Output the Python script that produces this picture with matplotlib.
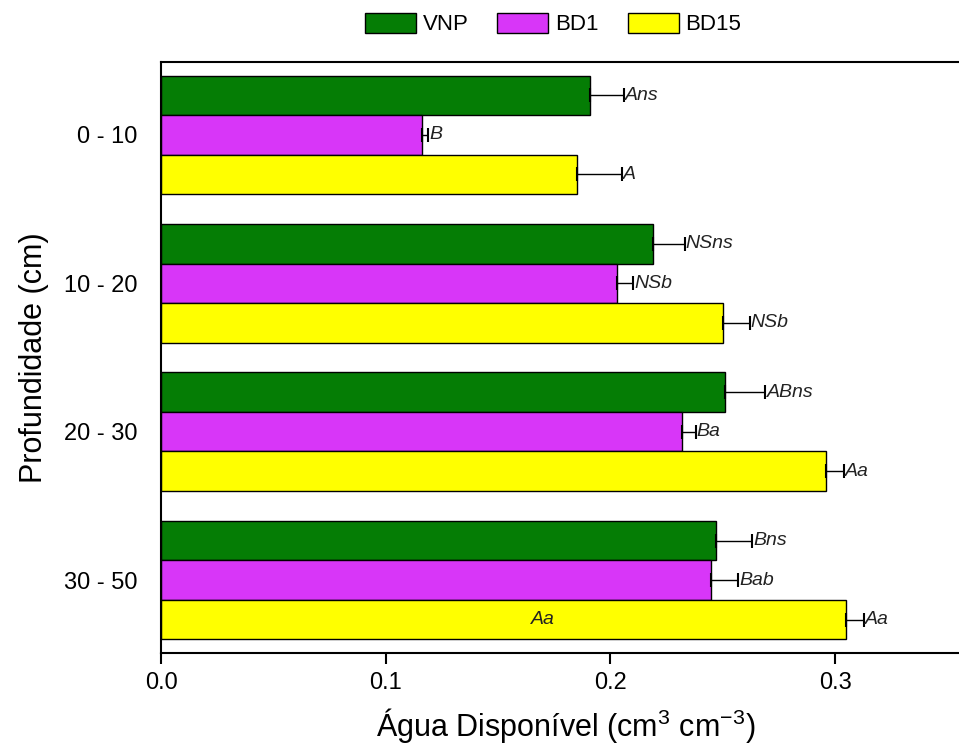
import matplotlib
matplotlib.use("Agg")
import matplotlib.pyplot as plt
import numpy as np

plt.rcParams["font.family"] = ["Liberation Sans", "DejaVu Sans"]
plt.rcParams["mathtext.fontset"] = "custom"
plt.rcParams["mathtext.rm"] = "Liberation Sans"

depths = ["0 - 10", "10 - 20", "20 - 30", "30 - 50"]
treatments = ["VNP", "BD1", "BD15"]
colors = ["#057D05", "#D836F8", "#FFFF00"]

vnp = [0.191, 0.219, 0.251, 0.247]
bd1 = [0.116, 0.203, 0.232, 0.245]
bd15 = [0.185, 0.250, 0.296, 0.305]

vnp_err = [0.015, 0.014, 0.018, 0.016]
bd1_err = [0.003, 0.007, 0.006, 0.012]
bd15_err = [0.020, 0.012, 0.008, 0.008]

vnp_lab = ["Ans", "NSns", "ABns", "Bns"]
bd1_lab = ["B", "NSb", "Ba", "Bab"]
bd15_lab = ["A", "NSb", "Aa", "Aa"]


def main():
    fig = plt.figure(figsize=(9.59, 7.54), dpi=100)
    ax = fig.add_axes([161 / 959, 101 / 754, 810 / 959, 591 / 754])

    y = np.arange(len(depths))
    h = 0.266
    series = [(vnp, vnp_err, vnp_lab), (bd1, bd1_err, bd1_lab), (bd15, bd15_err, bd15_lab)]
    handles = []
    for i, ((vals, errs, labs), name, c) in enumerate(zip(series, treatments, colors)):
        pos = y + (i - 1) * h
        b = ax.barh(pos, vals, height=h, color=c, edgecolor="black", linewidth=1.0,
                    label=name, zorder=2)
        handles.append(b)
        ax.errorbar(vals, pos, xerr=[np.zeros(len(vals)), errs], fmt="none",
                    ecolor="black", elinewidth=1.0, capsize=5, capthick=1.5, zorder=3)
        for v, e, p, t in zip(vals, errs, pos, labs):
            ax.text(v + e + 0.0005, p, t, fontsize=14, style="italic",
                    va="center", ha="left", color="#222222")

    # letter written inside the last yellow bar
    ax.text(bd15[-1] / 2 + 0.0175, y[-1] + h, bd15_lab[-1], fontsize=14, style="italic",
            va="center", ha="center", color="#222222")

    ax.set_xlim(0, 0.3605)
    ax.set_ylim(3.49, -0.49)
    ax.set_yticks(y)
    ax.set_yticklabels(depths, fontsize=17)
    ax.set_xticks([0.0, 0.1, 0.2, 0.3])
    ax.set_xticklabels(["0.0", "0.1", "0.2", "0.3"], fontsize=17)
    ax.tick_params(axis="y", length=0, pad=17)
    ax.tick_params(axis="x", length=8, width=1.5, pad=6)
    for s in ["left", "bottom", "top"]:
        ax.spines[s].set_linewidth(1.5)
    ax.spines["right"].set_visible(False)

    ax.set_ylabel("Profundidade (cm)", fontsize=22, labelpad=11)
    ax.set_xlabel("Água Disponível (cm$^3$ cm$^{-3}$)", fontsize=22, labelpad=8)

    fig.legend(handles=handles, labels=treatments, loc="center", ncol=3,
               bbox_to_anchor=(553 / 959, 1 - 24 / 754), frameon=False, fontsize=16,
               handlelength=2.3, handleheight=1.05, handletextpad=0.3, columnspacing=1.3)

    fig.savefig("out.png", dpi=100)


if __name__ == "__main__":
    main()
